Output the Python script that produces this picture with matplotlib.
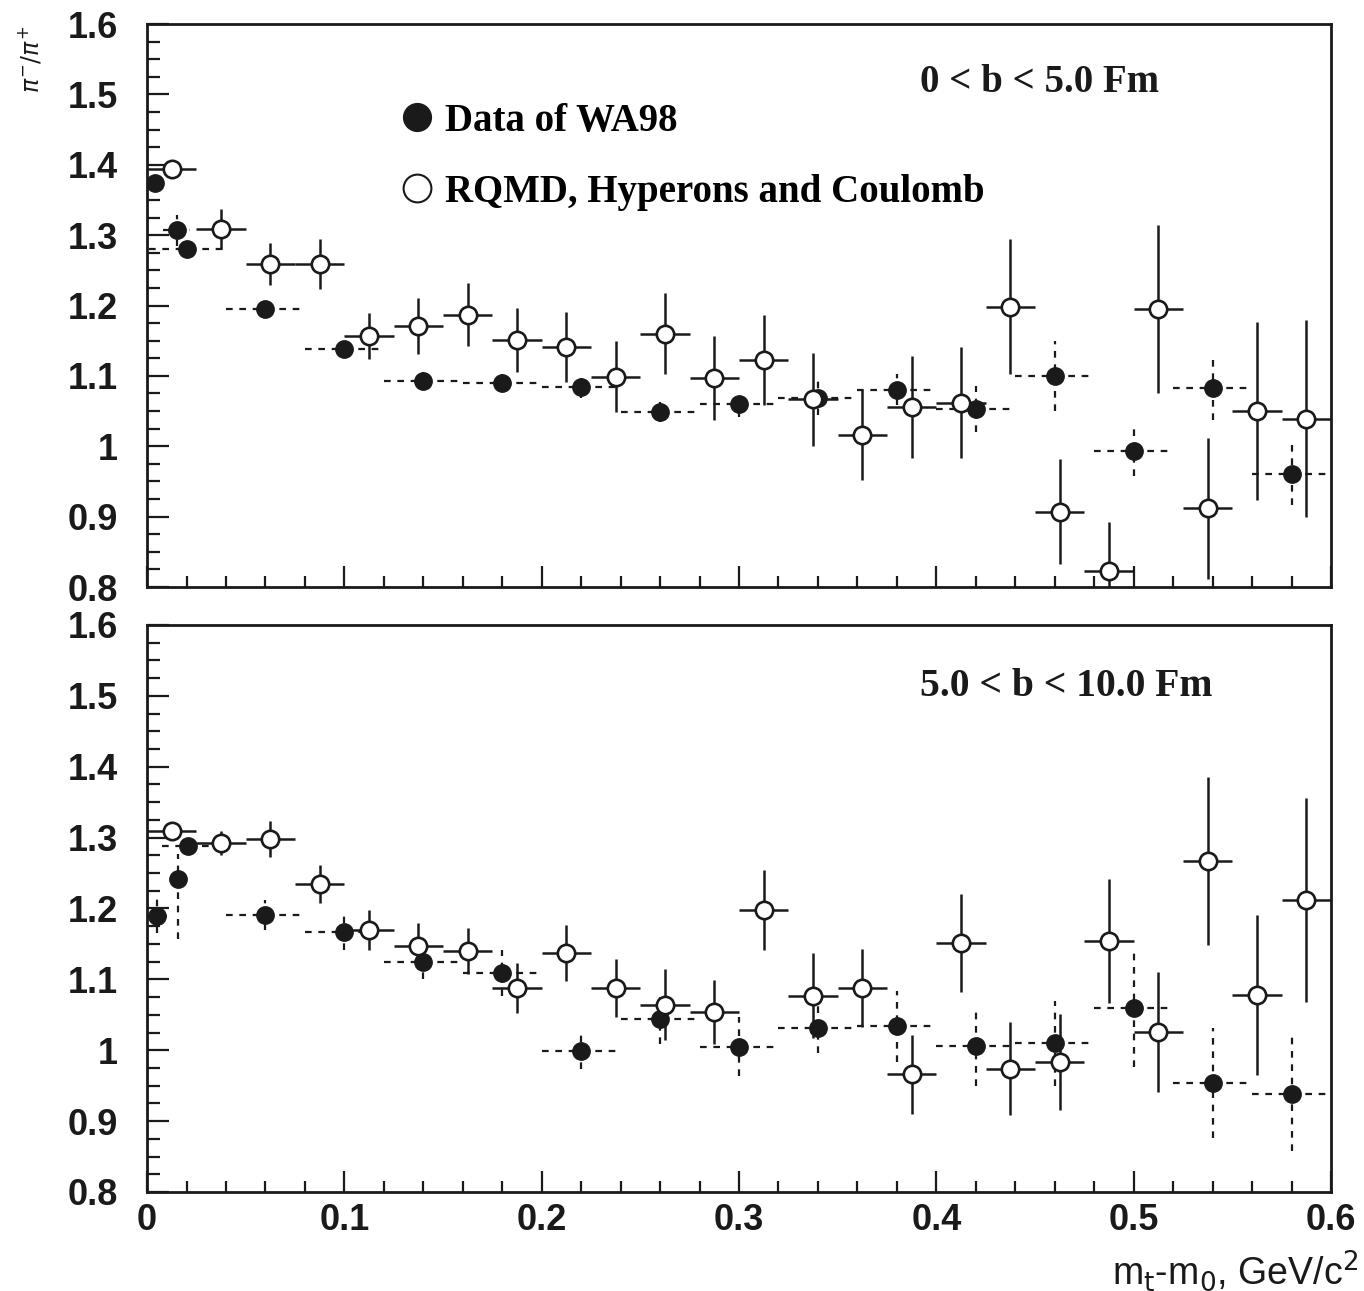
import matplotlib
matplotlib.use('Agg')
from matplotlib import pyplot as plt
from matplotlib.lines import Line2D
from matplotlib.ticker import MultipleLocator, FormatStrFormatter

# WA98 data, 0 < b < 5 fm
top_wa_x = [0.004, 0.015, 0.020, 0.06, 0.10, 0.14, 0.18, 0.22, 0.26, 0.30, 0.34, 0.38, 0.42, 0.46, 0.50, 0.54, 0.58]
top_wa_y = [1.374, 1.307, 1.280, 1.195, 1.138, 1.093, 1.090, 1.084, 1.049, 1.060, 1.069, 1.080, 1.053, 1.100, 0.993, 1.083, 0.961]
top_wa_xerr = [0.004, 0.007, 0.019, 0.02, 0.02, 0.02, 0.02, 0.02, 0.02, 0.02, 0.02, 0.02, 0.02, 0.02, 0.02, 0.02, 0.02]
top_wa_yerr = [0.012, 0.022, 0.012, 0.012, 0.012, 0.012, 0.013, 0.015, 0.015, 0.018, 0.025, 0.022, 0.033, 0.05, 0.035, 0.045, 0.045]

# RQMD, 0 < b < 5 fm
rq_x = [0.0125, 0.0375, 0.0625, 0.0875, 0.1125, 0.1375, 0.1625, 0.1875, 0.2125, 0.2375, 0.2625, 0.2875,
        0.3125, 0.3375, 0.3625, 0.3875, 0.4125, 0.4375, 0.4625, 0.4875, 0.5125, 0.5375, 0.5625, 0.5875]
top_rq_y = [1.394, 1.309, 1.259, 1.259, 1.157, 1.171, 1.187, 1.151, 1.141, 1.099, 1.160, 1.097,
            1.123, 1.067, 1.016, 1.056, 1.062, 1.198, 0.907, 0.823, 1.195, 0.912, 1.050, 1.039]
top_rq_yerr = [0.01, 0.028, 0.03, 0.035, 0.033, 0.04, 0.045, 0.046, 0.05, 0.05, 0.058, 0.059,
               0.064, 0.066, 0.064, 0.072, 0.079, 0.096, 0.075, 0.07, 0.12, 0.1, 0.127, 0.14]

# WA98 data, 5 < b < 10 fm
bot_wa_x = [0.005, 0.0157, 0.0206, 0.06, 0.10, 0.14, 0.18, 0.22, 0.26, 0.30, 0.34, 0.38, 0.42, 0.46, 0.50, 0.54, 0.58]
bot_wa_y = [1.189, 1.242, 1.288, 1.191, 1.167, 1.124, 1.109, 0.999, 1.044, 1.005, 1.031, 1.034, 1.006, 1.010, 1.060, 0.954, 0.938]
bot_wa_xerr = [0.005, 0.002, 0.013, 0.02, 0.02, 0.02, 0.02, 0.02, 0.02, 0.02, 0.02, 0.02, 0.02, 0.02, 0.02, 0.02, 0.02]
bot_wa_yerr_lo = [0.024, 0.085, 0.012, 0.021, 0.025, 0.023, 0.033, 0.025, 0.035, 0.042, 0.035, 0.05, 0.056, 0.06, 0.083, 0.078, 0.08]
bot_wa_yerr_hi = [0.024, 0.035, 0.012, 0.021, 0.025, 0.023, 0.033, 0.025, 0.035, 0.042, 0.035, 0.05, 0.056, 0.06, 0.083, 0.078, 0.08]

# RQMD, 5 < b < 10 fm
bot_rq_y = [1.309, 1.292, 1.298, 1.235, 1.170, 1.147, 1.140, 1.088, 1.137, 1.088, 1.064, 1.054,
            1.198, 1.077, 1.088, 0.966, 1.151, 0.974, 0.983, 1.154, 1.026, 1.267, 1.078, 1.212]
bot_rq_yerr = [0.012, 0.017, 0.025, 0.027, 0.028, 0.032, 0.033, 0.035, 0.04, 0.041, 0.05, 0.045,
               0.056, 0.06, 0.055, 0.056, 0.069, 0.066, 0.068, 0.087, 0.085, 0.118, 0.113, 0.144]
rq_xerr = 0.0125

labels = ['Data of WA98', 'RQMD, Hyperons and Coulomb']
panel_text = ['0 < b < 5.0 Fm', '5.0 < b < 10.0 Fm']

sans = ['Liberation Sans', 'DejaVu Sans']
serif = ['Liberation Serif', 'DejaVu Serif']
ink = '#1a1a1a'


def draw_wa98(ax, x, y, xerr, yerr):
    eb = ax.errorbar(x, y, xerr=xerr, yerr=yerr, fmt='o', ms=12.5, mfc=ink, mec=ink,
                     ecolor=ink, elinewidth=1.6, capsize=0, zorder=3)
    for c in eb[2]:
        c.set_linestyle((0, (3, 3)))


def draw_rqmd(ax, x, y, xerr, yerr):
    ax.errorbar(x, y, xerr=xerr, yerr=yerr, fmt='o', ms=12.5, mfc='white', mec=ink, mew=1.9,
                ecolor=ink, elinewidth=1.8, capsize=0, zorder=4)


def style_axes(ax, show_x):
    ax.set_xlim(0, 0.6)
    ax.set_ylim(0.8, 1.6)
    ax.xaxis.set_major_locator(MultipleLocator(0.1))
    ax.xaxis.set_minor_locator(MultipleLocator(0.02))
    ax.yaxis.set_major_locator(MultipleLocator(0.1))
    ax.yaxis.set_minor_locator(MultipleLocator(0.025))
    ax.yaxis.set_major_formatter(FormatStrFormatter('%g'))
    ax.xaxis.set_major_formatter(FormatStrFormatter('%g'))
    ax.tick_params(which='both', direction='in', top=False, right=False, color=ink, width=1.6)
    ax.tick_params(axis='y', which='major', length=16, pad=21, labelsize=26)
    ax.tick_params(axis='y', which='minor', length=9)
    ax.tick_params(axis='x', which='major', length=15, pad=8, labelsize=26, labelbottom=show_x)
    ax.tick_params(axis='x', which='minor', length=8)
    for lab in ax.get_xticklabels() + ax.get_yticklabels():
        lab.set_family(sans)
        lab.set_fontweight('bold')
        lab.set_color(ink)
    for sp in ax.spines.values():
        sp.set_linewidth(2.0)
        sp.set_color(ink)


fig = plt.figure(figsize=(13.64, 12.91), dpi=100)
ax1 = fig.add_axes([0.1078, 0.5453, 0.868, 0.4361])
ax2 = fig.add_axes([0.1078, 0.0767, 0.868, 0.4392])

draw_wa98(ax1, top_wa_x, top_wa_y, top_wa_xerr, top_wa_yerr)
draw_rqmd(ax1, rq_x, top_rq_y, rq_xerr, top_rq_yerr)
draw_wa98(ax2, bot_wa_x, bot_wa_y, bot_wa_xerr, [bot_wa_yerr_lo, bot_wa_yerr_hi])
draw_rqmd(ax2, rq_x, bot_rq_y, rq_xerr, bot_rq_yerr)

style_axes(ax1, False)
style_axes(ax2, True)

handles = [Line2D([], [], ls='none', marker='o', ms=20, mfc=ink, mec=ink),
           Line2D([], [], ls='none', marker='o', ms=20, mfc='white', mec=ink, mew=1.5)]
ax1.legend(handles, labels, loc='upper left', bbox_to_anchor=(0.195, 0.895), frameon=False,
           prop={'family': serif, 'weight': 'bold', 'size': 28}, labelspacing=0.88,
           handletextpad=0.22, handlelength=1.0, borderpad=0)

ax1.text(0.653, 0.897, panel_text[0], transform=ax1.transAxes, ha='left', va='center',
         family=serif, fontweight='bold', fontsize=28, color=ink)
ax2.text(0.653, 0.892, panel_text[1], transform=ax2.transAxes, ha='left', va='center',
         family=serif, fontweight='bold', fontsize=28.5, color=ink)

fig.text(0.022, 0.954, r'$\pi^{-}/\pi^{+}$', rotation=90, ha='center', va='center',
         fontsize=17, color=ink)
fig.text(0.996, 0.016, r'm$_{\rm t}$-m$_{\rm 0}$, GeV/c$^{2}$', ha='right', va='center',
         family=sans, fontsize=27, color=ink)

fig.savefig('out.png', dpi=100)
